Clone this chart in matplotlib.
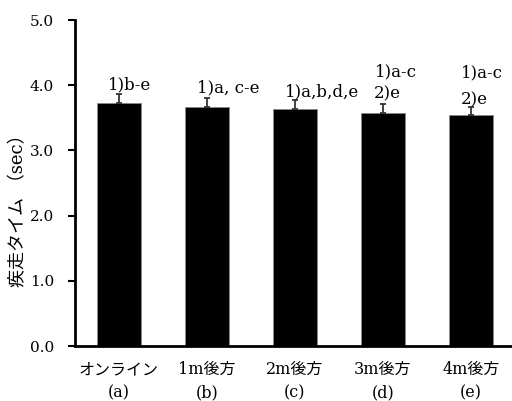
import matplotlib
matplotlib.use("Agg")
import matplotlib.pyplot as plt

categories = ["オンライン\n(a)", "1m後方\n(b)", "2m後方\n(c)", "3m後方\n(d)", "4m後方\n(e)"]
values = [3.73, 3.67, 3.63, 3.57, 3.54]
errors = [0.13, 0.13, 0.14, 0.14, 0.13]
annotations = [["1)b-e"], ["1)a, c-e"], ["1)a,b,d,e"], ["1)a-c", "2)e"], ["1)a-c", "2)e"]]
yticks = [0.0, 1.0, 2.0, 3.0, 4.0, 5.0]

fam = ["DejaVu Serif", "Noto Sans CJK JP", "DejaVu Sans"]
plt.rcParams['font.family'] = fam

fig = plt.figure(figsize=(5.12, 4.01), dpi=100)
ax = fig.add_axes([0.146, 0.137, 0.854, 0.813])

x = list(range(len(categories)))
ax.bar(x, values, width=0.5, color="black", edgecolor="#888888", linewidth=0.6, zorder=2)
ax.errorbar(x, values, yerr=[[0]*len(errors), errors], fmt="none", ecolor="#333333",
            elinewidth=1.3, capsize=2.2, capthick=1.3, zorder=3)

ann_x = [[-0.125], [0.886], [1.886], [2.91, 2.90], [3.886, 3.886]]
ann_y = [[4.00], [3.96], [3.90], [4.21, 3.87], [4.19, 3.77]]
for i, lines in enumerate(annotations):
    for j, t in enumerate(lines):
        ax.text(ann_x[i][j], ann_y[i][j], t, ha="left", va="center", fontsize=12, family=fam)

ax.set_xlim(-0.5, 4.466)
ax.set_ylim(0, 5.0)
ax.set_yticks(yticks)
ax.set_yticklabels([f"{v:.1f}" for v in yticks], fontsize=11)
ax.set_xticks(x)
ax.set_xticklabels(categories, fontsize=11.5, linespacing=1.45)
ax.tick_params(axis="x", length=0, pad=11)
ax.tick_params(axis="y", length=5, width=1.5, direction="out", pad=10)
for s in ["top", "right"]:
    ax.spines[s].set_visible(False)
for s in ["left", "bottom"]:
    ax.spines[s].set_linewidth(2)
ax.set_ylabel("疾走タイム （sec）", fontsize=13)
ax.yaxis.set_label_coords(-0.108, 0.43)

fig.savefig("out.png", dpi=100)
